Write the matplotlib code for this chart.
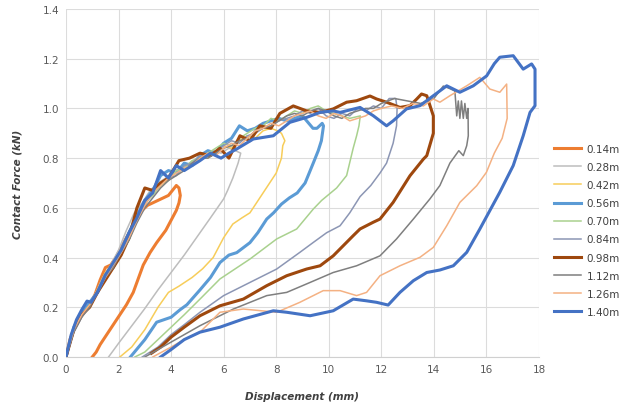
import matplotlib
matplotlib.use('Agg')
import matplotlib.pyplot as plt

# drop heights and line styling
labels = ['0.14m', '0.28m', '0.42m', '0.56m', '0.70m', '0.84m', '0.98m', '1.12m', '1.26m', '1.40m']
colors = ['#ED7D31', '#BDBDBD', '#F7CD5A', '#5B9BD5', '#A9D18E', '#8C96B4', '#9E480E', '#7F7F7F', '#F4B183', '#4472C4']
widths = [2.2, 1.1, 1.1, 2.2, 1.1, 1.1, 2.2, 1.1, 1.1, 2.2]

# displacement (mm) / contact force (kN), loading then unloading
x014 = [0, 0.15, 0.3, 0.5, 0.7, 0.9, 1.1, 1.3, 1.5, 1.7, 1.9, 2.1, 2.3, 2.5, 2.7, 2.9, 3.1, 3.3, 3.5, 3.7,
        3.9, 4.05, 4.2, 4.3, 4.35, 4.3, 4.2, 4.0, 3.8, 3.45, 3.2, 2.94, 2.56, 2.3, 2.05, 1.8, 1.55, 1.3, 1.15, 1.0]
y014 = [0, 0.07, 0.11, 0.16, 0.19, 0.21, 0.25, 0.31, 0.36, 0.37, 0.40, 0.44, 0.48, 0.52, 0.56, 0.59, 0.61, 0.62, 0.63, 0.64,
        0.65, 0.67, 0.69, 0.68, 0.65, 0.62, 0.59, 0.55, 0.51, 0.46, 0.42, 0.37, 0.26, 0.21, 0.17, 0.13, 0.09, 0.05, 0.02, 0.0]

x028 = [0, 0.2, 0.5, 0.8, 1.1, 1.4, 1.7, 2.0, 2.3, 2.6, 2.9, 3.2, 3.5, 3.8, 4.1, 4.4, 4.7, 5.0, 5.3, 5.6, 5.9, 6.2, 6.45,
        6.65, 6.55, 6.35, 6.15, 6.0, 5.5, 5.1, 4.5, 4.0, 3.5, 3.0, 2.5, 2.0, 1.62]
y028 = [0, 0.09, 0.15, 0.19, 0.25, 0.32, 0.37, 0.43, 0.51, 0.58, 0.62, 0.67, 0.70, 0.72, 0.75, 0.76, 0.78, 0.80, 0.81, 0.83, 0.82, 0.84, 0.83,
        0.82, 0.78, 0.72, 0.67, 0.636, 0.56, 0.50, 0.41, 0.34, 0.27, 0.195, 0.125, 0.055, 0.0]

x042 = [0, 0.3, 0.6, 0.9, 1.2, 1.5, 1.8, 2.1, 2.4, 2.7, 3.0, 3.3, 3.6, 3.9, 4.2, 4.5, 4.8, 5.1, 5.4, 5.7, 6.0, 6.3, 6.6, 6.9, 7.2, 7.5, 7.8, 8.05,
        8.2, 8.33, 8.25, 8.2, 8.0, 7.5, 7.0, 6.7, 6.35, 6.0, 5.6, 5.2, 4.8, 4.3, 3.9, 3.5, 3.0, 2.5, 2.05]
y042 = [0, 0.11, 0.17, 0.21, 0.27, 0.34, 0.38, 0.42, 0.49, 0.57, 0.61, 0.66, 0.69, 0.72, 0.74, 0.76, 0.78, 0.81, 0.80, 0.83, 0.85, 0.84, 0.87, 0.89, 0.88, 0.91, 0.92, 0.91,
        0.90, 0.87, 0.85, 0.80, 0.74, 0.66, 0.58, 0.56, 0.535, 0.48, 0.40, 0.355, 0.32, 0.285, 0.26, 0.20, 0.11, 0.04, 0.0]

x056 = [0, 0.3, 0.6, 0.9, 1.2, 1.5, 1.8, 2.1, 2.4, 2.7, 3.0, 3.3, 3.6, 3.9, 4.2, 4.5, 4.8, 5.1, 5.4, 5.7, 6.0, 6.3, 6.6, 6.9, 7.2, 7.5,
        7.8, 8.1, 8.4, 8.7, 9.0, 9.2, 9.4, 9.55, 9.75, 9.8, 9.72, 9.6, 9.41, 9.1, 8.8, 8.5, 8.2, 7.9, 7.64, 7.3, 7.0, 6.5, 6.2,
        5.86, 5.5, 5.1, 4.6, 4.34, 4.0, 3.45, 3.0, 2.45]
y056 = [0, 0.12, 0.18, 0.22, 0.26, 0.33, 0.36, 0.43, 0.50, 0.57, 0.63, 0.67, 0.73, 0.75, 0.74, 0.78, 0.77, 0.81, 0.83, 0.82, 0.86, 0.88, 0.93, 0.91, 0.92, 0.94,
        0.95, 0.96, 0.95, 0.96, 0.97, 0.945, 0.92, 0.92, 0.94, 0.93, 0.87, 0.83, 0.78, 0.70, 0.66, 0.64, 0.615, 0.58, 0.555, 0.50, 0.46, 0.42, 0.41,
        0.38, 0.32, 0.27, 0.21, 0.19, 0.16, 0.14, 0.07, 0.0]

x070 = [0, 0.3, 0.6, 0.9, 1.2, 1.5, 1.8, 2.1, 2.4, 2.7, 3.0, 3.3, 3.6, 3.9, 4.2, 4.5, 4.8, 5.1, 5.4, 5.7, 6.0, 6.3, 6.6, 6.9, 7.2, 7.5,
        7.8, 8.1, 8.4, 8.7, 9.0, 9.3, 9.6, 9.9, 10.2, 10.5, 10.8, 11.0, 11.2, 11.15, 11.06, 10.93, 10.68, 10.3, 9.73, 9.41, 8.78, 8.02,
        7.0, 5.86, 5.1, 4.5, 4.0, 3.5, 3.0, 2.62]
y070 = [0, 0.11, 0.17, 0.21, 0.26, 0.32, 0.37, 0.42, 0.47, 0.55, 0.62, 0.65, 0.69, 0.71, 0.75, 0.76, 0.79, 0.80, 0.82, 0.84, 0.86, 0.85, 0.88, 0.90, 0.92, 0.93,
        0.96, 0.95, 0.97, 0.99, 0.98, 1.0, 1.01, 0.99, 0.98, 0.97, 0.96, 0.965, 0.97, 0.93, 0.89, 0.84, 0.73, 0.68, 0.63, 0.595, 0.515, 0.475,
        0.394, 0.314, 0.233, 0.17, 0.12, 0.07, 0.02, 0.0]

x084 = [0, 0.3, 0.6, 0.9, 1.2, 1.5, 1.8, 2.1, 2.4, 2.7, 3.0, 3.3, 3.6, 3.9, 4.2, 4.5, 4.8, 5.1, 5.4, 5.7, 6.0, 6.3, 6.6, 6.9, 7.2, 7.5,
        7.8, 8.1, 8.4, 8.7, 9.0, 9.3, 9.6, 9.9, 10.2, 10.5, 10.8, 11.1, 11.4, 11.7, 12.0, 12.3, 12.55, 12.6, 12.58, 12.45, 12.2, 11.95,
        11.6, 11.19, 10.8, 10.43, 9.92, 9.4, 8.9, 8.02, 7.0, 6.0, 5.1, 4.5, 4.0, 3.5, 2.9]
y084 = [0, 0.10, 0.16, 0.21, 0.27, 0.33, 0.38, 0.43, 0.49, 0.56, 0.61, 0.67, 0.70, 0.72, 0.73, 0.77, 0.78, 0.81, 0.81, 0.83, 0.85, 0.87, 0.86, 0.89, 0.90, 0.92,
        0.93, 0.95, 0.96, 0.97, 0.99, 0.98, 1.0, 0.97, 0.96, 0.98, 0.97, 1.0, 0.99, 1.01, 1.0, 1.04, 1.04, 1.0, 0.93, 0.86, 0.78, 0.74,
        0.69, 0.645, 0.58, 0.528, 0.50, 0.46, 0.421, 0.354, 0.30, 0.247, 0.18, 0.13, 0.09, 0.04, 0.0]

x098 = [0, 0.3, 0.6, 0.9, 1.2, 1.5, 1.8, 2.1, 2.4, 2.7, 3.0, 3.3, 3.6, 3.9, 4.3, 4.7, 5.1, 5.5, 5.86, 6.2, 6.62, 7.0, 7.38, 7.8, 8.14,
        8.65, 9.16, 9.67, 10.17, 10.68, 11.06, 11.57, 11.82, 12.2, 12.71, 13.09, 13.35, 13.53, 13.73, 13.98, 13.98, 13.73, 13.6,
        13.09, 12.45, 11.95, 11.69, 11.19, 10.93, 10.17, 9.67, 9.16, 8.4, 7.64, 6.75, 5.86, 5.1, 4.5, 4.0, 3.6, 3.25]
y098 = [0, 0.11, 0.17, 0.20, 0.26, 0.31, 0.36, 0.41, 0.48, 0.60, 0.68, 0.67, 0.70, 0.72, 0.79, 0.80, 0.82, 0.81, 0.84, 0.80, 0.89, 0.87, 0.93, 0.92, 0.98,
        1.01, 0.99, 0.984, 0.998, 1.025, 1.031, 1.05, 1.038, 1.025, 1.004, 1.011, 1.038, 1.058, 1.051, 0.97, 0.90, 0.81, 0.796,
        0.729, 0.622, 0.555, 0.542, 0.515, 0.488, 0.407, 0.367, 0.354, 0.327, 0.287, 0.233, 0.206, 0.166, 0.12, 0.08, 0.04, 0.015]

x112 = [0, 0.3, 0.6, 0.9, 1.2, 1.5, 1.8, 2.1, 2.4, 2.7, 3.0, 3.3, 3.6, 3.9, 4.2, 4.5, 4.8, 5.1, 5.4, 5.7, 6.0, 6.3, 6.6, 6.9, 7.2, 7.5,
        7.8, 8.1, 8.4, 8.7, 9.0, 9.3, 9.6, 9.9, 10.2, 10.5, 10.8, 11.1, 11.4, 11.7, 12.0, 12.5, 13.0, 13.5, 14.0, 14.36, 14.6, 14.8,
        14.87, 14.93, 14.99, 15.05, 15.12, 15.18, 15.25, 15.3, 15.31, 15.25, 15.12, 14.95, 14.61, 14.23, 13.85, 13.22, 12.58, 11.95,
        11.06, 10.17, 9.29, 8.4, 7.64, 6.37, 5.1, 4.5, 4.0, 3.5, 3.0]
y112 = [0, 0.10, 0.16, 0.20, 0.26, 0.32, 0.36, 0.42, 0.47, 0.54, 0.60, 0.64, 0.68, 0.71, 0.73, 0.75, 0.78, 0.80, 0.80, 0.82, 0.84, 0.85, 0.87, 0.88, 0.91, 0.92,
        0.93, 0.95, 0.97, 0.98, 0.97, 0.99, 1.0, 0.99, 0.97, 0.96, 0.98, 0.99, 1.0, 1.0, 1.02, 1.04, 1.03, 1.02, 1.04, 1.09, 1.08, 1.07,
        0.97, 1.03, 0.96, 1.03, 0.96, 1.02, 0.96, 1.0, 0.89, 0.85, 0.81, 0.83, 0.78, 0.69, 0.636, 0.555, 0.475, 0.407,
        0.367, 0.34, 0.30, 0.26, 0.247, 0.193, 0.126, 0.09, 0.06, 0.03, 0.0]

x126 = [0, 0.3, 0.6, 0.9, 1.2, 1.5, 1.8, 2.1, 2.4, 2.7, 3.0, 3.3, 3.6, 3.9, 4.2, 4.5, 4.8, 5.1, 5.4, 5.7, 6.0, 6.3, 6.6, 6.9, 7.2, 7.5,
        7.8, 8.1, 8.4, 8.7, 9.0, 9.3, 9.6, 9.9, 10.2, 10.5, 10.8, 11.1, 11.4, 11.7, 12.0, 12.4, 12.8, 13.2, 13.6, 13.98, 14.23, 14.61,
        15.25, 15.75, 16.13, 16.51, 16.77, 16.79, 16.6, 16.3, 16.0, 15.63, 14.99, 14.49, 13.98, 13.47, 12.71, 11.95, 11.44, 11.06,
        10.43, 9.79, 8.9, 8.02, 6.75, 5.86, 5.1, 4.5, 4.0, 3.3]
y126 = [0, 0.11, 0.17, 0.21, 0.26, 0.32, 0.37, 0.42, 0.48, 0.55, 0.61, 0.66, 0.69, 0.72, 0.74, 0.76, 0.77, 0.80, 0.82, 0.81, 0.84, 0.86, 0.85, 0.88, 0.91, 0.92,
        0.94, 0.93, 0.95, 0.97, 0.98, 0.99, 0.97, 0.96, 0.98, 0.97, 0.95, 0.96, 0.97, 0.99, 1.0, 1.01, 1.0, 1.02, 1.01, 1.038, 1.025, 1.051,
        1.091, 1.125, 1.078, 1.065, 1.098, 0.96, 0.88, 0.82, 0.743, 0.689, 0.622, 0.528, 0.441, 0.401, 0.367, 0.327, 0.26, 0.247,
        0.267, 0.267, 0.22, 0.18, 0.193, 0.18, 0.10, 0.07, 0.04, 0.0]

x140 = [0, 0.2, 0.4, 0.6, 0.8, 0.95, 1.2, 1.5, 1.8, 2.1, 2.4, 2.7, 3.0, 3.3, 3.6, 3.9, 4.2, 4.5, 4.8, 5.1, 5.5, 5.9, 6.2, 6.5,
        7.13, 7.89, 8.52, 9.16, 9.67, 10.17, 10.43, 11.19, 11.69, 12.2, 12.45, 12.96, 13.47, 13.98, 14.49, 14.99, 15.5, 16.01, 16.3,
        16.51, 17.02, 17.4, 17.72, 17.85, 17.85, 17.66, 17.4, 17.02, 16.51, 15.75, 15.25, 14.74, 14.23, 13.73, 13.22, 12.71, 12.26,
        11.82, 11.44, 10.93, 10.17, 9.29, 8.4, 7.89, 6.75, 5.86, 5.1, 4.5, 4.0, 3.6]
y140 = [0, 0.09, 0.15, 0.19, 0.225, 0.22, 0.26, 0.33, 0.38, 0.43, 0.50, 0.56, 0.63, 0.66, 0.75, 0.72, 0.77, 0.75, 0.77, 0.79, 0.82, 0.80, 0.82, 0.837,
        0.877, 0.89, 0.944, 0.964, 0.984, 0.99, 0.984, 1.004, 0.971, 0.93, 0.95, 0.998, 1.011, 1.051, 1.091, 1.065, 1.091, 1.131, 1.18,
        1.206, 1.212, 1.158, 1.179, 1.158, 1.011, 0.984, 0.89, 0.77, 0.663, 0.515, 0.421, 0.367, 0.35, 0.34, 0.307, 0.26, 0.209,
        0.22, 0.226, 0.233, 0.186, 0.166, 0.18, 0.186, 0.153, 0.12, 0.10, 0.07, 0.03, 0.0]

xs = [x014, x028, x042, x056, x070, x084, x098, x112, x126, x140]
ys = [y014, y028, y042, y056, y070, y084, y098, y112, y126, y140]


def run():
  fig = plt.figure(figsize=(6.32, 4.06), dpi=100)
  ax = fig.add_axes([0.1044, 0.1182, 0.7484, 0.8572])

  for x, y, lab, c, lw in zip(xs, ys, labels, colors, widths):
    ax.plot(x, y, color=c, lw=lw, label=lab, solid_joinstyle='round')

  ax.set_xlim(0, 18)
  ax.set_ylim(0, 1.4)
  ax.set_xticks(range(0, 19, 2))
  ax.set_yticks([0, 0.2, 0.4, 0.6, 0.8, 1.0, 1.2, 1.4])
  ax.set_yticklabels(['0.0', '0.2', '0.4', '0.6', '0.8', '1.0', '1.2', '1.4'])
  ax.grid(True, color='#DCDCDC', lw=0.8)
  ax.set_axisbelow(True)
  for s in ax.spines.values():
    s.set_visible(False)
  ax.spines['bottom'].set_visible(True)
  ax.spines['bottom'].set_color('#D0D0D0')
  ax.tick_params(length=0, labelsize=7.5, labelcolor='#595959', pad=5)

  ax.set_xlabel('Displacement (mm)', fontsize=7.5, fontstyle='italic', fontweight='bold', color='#404040', labelpad=12)
  ax.set_ylabel('Contact Force (kN)', fontsize=7.5, fontstyle='italic', fontweight='bold', color='#404040', labelpad=14)

  fig.legend(loc='center left', bbox_to_anchor=(0.862, 0.43), frameon=False, fontsize=7.5,
             handlelength=2.6, labelspacing=0.78, handletextpad=0.5, labelcolor='#404040')

  fig.savefig('out.png', dpi=100)


if __name__ == '__main__':
  run()
